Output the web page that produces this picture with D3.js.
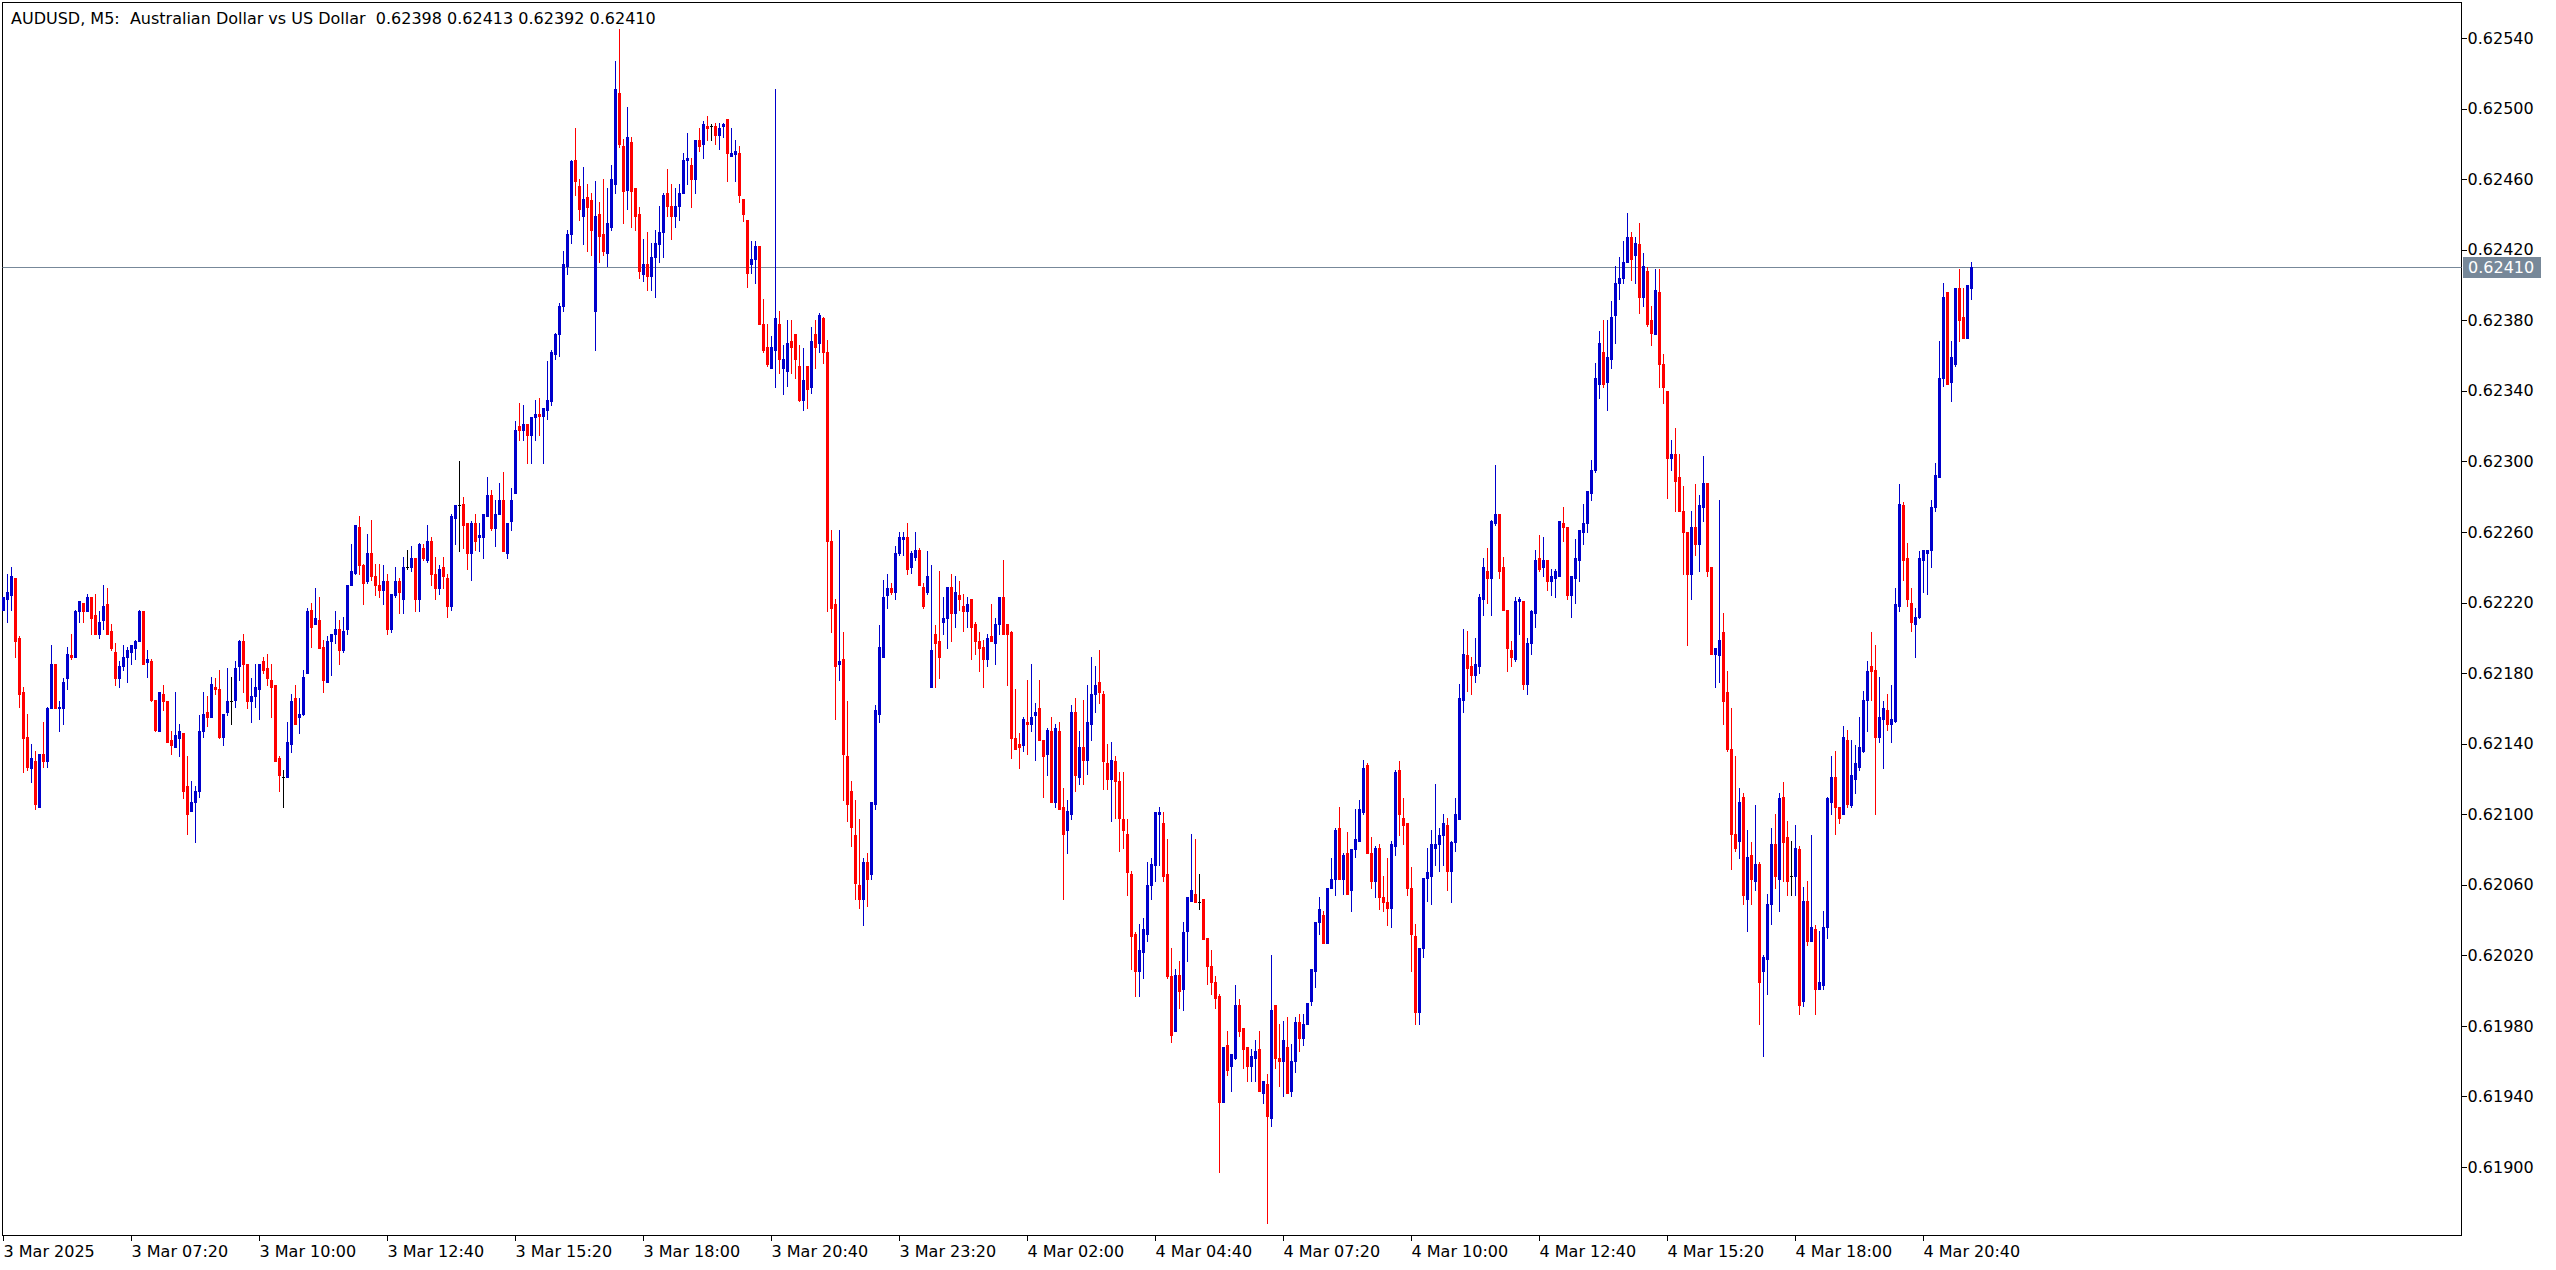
<!DOCTYPE html>
<html><head><meta charset="utf-8">
<script src="https://cdn.jsdelivr.net/npm/d3@7"></script>
<style>
html,body{margin:0;padding:0;background:#fff;}
svg{display:block;font-family:"DejaVu Sans",Tahoma,sans-serif;}
</style></head><body>
<svg id="chart" width="2556" height="1270"></svg>
<script>
const title = "AUDUSD, M5:  Australian Dollar vs US Dollar  0.62398 0.62413 0.62392 0.62410";
const startTime = "2025-03-03 04:40";
const barMinutes = 5;
const lastPrice = 0.62410;

const opens = [
0.62216,0.62222,0.62224,0.62234,0.62200,0.62169,0.62144,0.62126,0.62130,0.62104,
0.62134,0.62130,0.62160,0.62185,0.62160,0.62160,0.62177,0.62190,0.62189,0.62215,
0.62220,0.62215,0.62223,0.62213,0.62202,0.62210,0.62219,0.62204,0.62192,0.62177,
0.62184,0.62189,0.62192,0.62194,0.62198,0.62215,0.62186,0.62187,0.62165,0.62147,
0.62168,0.62164,0.62142,0.62138,0.62143,0.62146,0.62116,0.62102,0.62107,0.62113,
0.62147,0.62158,0.62155,0.62172,0.62171,0.62144,0.62158,0.62164,0.62165,0.62184,
0.62198,0.62185,0.62164,0.62167,0.62171,0.62187,0.62183,0.62176,0.62173,0.62132,
0.62121,0.62121,0.62140,0.62166,0.62155,0.62157,0.62180,0.62216,0.62208,0.62210,
0.62195,0.62175,0.62198,0.62202,0.62205,0.62193,0.62205,0.62230,0.62237,0.62263,
0.62241,0.62232,0.62248,0.62235,0.62230,0.62227,0.62232,0.62205,0.62224,0.62232,
0.62222,0.62240,0.62240,0.62245,0.62222,0.62251,0.62244,0.62255,0.62236,0.62228,
0.62240,0.62234,0.62218,0.62268,0.62275,0.62276,0.62265,0.62248,0.62265,0.62257,
0.62257,0.62269,0.62281,0.62262,0.62270,0.62278,0.62248,0.62266,0.62282,0.62320,
0.62318,0.62321,0.62315,0.62325,0.62327,0.62326,0.62329,0.62334,0.62361,0.62372,
0.62388,0.62411,0.62429,0.62471,0.62456,0.62439,0.62450,0.62448,0.62385,0.62440,
0.62429,0.62418,0.62433,0.62457,0.62509,0.62479,0.62454,0.62481,0.62455,0.62440,
0.62406,0.62412,0.62405,0.62416,0.62423,0.62430,0.62452,0.62445,0.62439,0.62445,
0.62452,0.62471,0.62468,0.62460,0.62482,0.62480,0.62490,0.62490,0.62490,0.62485,
0.62490,0.62494,0.62473,0.62474,0.62475,0.62449,0.62437,0.62412,0.62415,0.62422,
0.62378,0.62365,0.62353,0.62363,0.62378,0.62353,0.62351,0.62368,0.62372,0.62354,
0.62335,0.62354,0.62342,0.62372,0.62367,0.62381,0.62362,0.62255,0.62219,0.62185,
0.62188,0.62133,0.62113,0.62088,0.62060,0.62052,0.62073,0.62066,0.62106,0.62157,
0.62189,0.62224,0.62228,0.62226,0.62248,0.62256,0.62257,0.62240,0.62246,0.62250,
0.62229,0.62226,0.62172,0.62202,0.62198,0.62209,0.62211,0.62229,0.62214,0.62224,
0.62218,0.62215,0.62222,0.62208,0.62198,0.62195,0.62188,0.62201,0.62197,0.62208,
0.62223,0.62208,0.62203,0.62143,0.62140,0.62139,0.62152,0.62151,0.62156,0.62160,
0.62142,0.62134,0.62147,0.62107,0.62147,0.62104,0.62091,0.62100,0.62158,0.62121,
0.62138,0.62131,0.62151,0.62168,0.62175,0.62168,0.62129,0.62120,0.62130,0.62119,
0.62097,0.62089,0.62066,0.62032,0.62011,0.62022,0.62032,0.62060,0.62071,0.62100,
0.62095,0.62066,0.62008,0.61977,0.62009,0.62001,0.62034,0.62051,0.62055,0.62050,
0.62052,0.62030,0.62014,0.62005,0.61997,0.61937,0.61969,0.61957,0.61962,0.61992,
0.61979,0.61968,0.61957,0.61962,0.61967,0.61942,0.61947,0.61928,0.61992,0.61962,
0.61960,0.61968,0.61943,0.61960,0.61982,0.61973,0.61981,0.61994,0.62011,0.62039,
0.62043,0.62027,0.62058,0.62063,0.62092,0.62063,0.62078,0.62057,0.62080,0.62085,
0.62101,0.62128,0.62078,0.62062,0.62081,0.62053,0.62050,0.62047,0.62082,0.62125,
0.62098,0.62095,0.62058,0.62031,0.61988,0.62024,0.62064,0.62065,0.62081,0.62083,
0.62088,0.62094,0.62068,0.62084,0.62097,0.62165,0.62190,0.62184,0.62179,0.62184,
0.62222,0.62238,0.62234,0.62265,0.62270,0.62240,0.62216,0.62193,0.62188,0.62221,
0.62221,0.62174,0.62197,0.62214,0.62245,0.62240,0.62244,0.62232,0.62234,0.62235,
0.62265,0.62263,0.62224,0.62234,0.62244,0.62260,0.62265,0.62282,0.62295,0.62344,
0.62362,0.62345,0.62358,0.62383,0.62401,0.62404,0.62413,0.62427,0.62417,0.62423,
0.62393,0.62408,0.62380,0.62372,0.62396,0.62355,0.62340,0.62302,0.62304,0.62291,
0.62272,0.62260,0.62236,0.62263,0.62253,0.62274,0.62288,0.62240,0.62191,0.62190,
0.62203,0.62169,0.62137,0.62089,0.62085,0.62110,0.62052,0.62077,0.62062,0.62072,
0.62011,0.62018,0.62049,0.62083,0.62063,0.62110,0.62087,0.62065,0.62065,0.62080,
0.61994,0.62051,0.62028,0.62035,0.62001,0.62003,0.62036,0.62107,0.62121,0.62104,
0.62100,0.62142,0.62105,0.62120,0.62127,0.62136,0.62165,0.62184,0.62182,0.62144,
0.62154,0.62159,0.62151,0.62153,0.62218,0.62275,0.62245,0.62220,0.62208,0.62212,
0.62244,0.62248,0.62250,0.62274,0.62291,0.62347,0.62396,0.62345,0.62355,0.62398,
0.62382,0.62370,0.62398];

const highs = [
0.62223,0.62236,0.62240,0.62234,0.62201,0.62172,0.62157,0.62140,0.62136,0.62134,
0.62152,0.62161,0.62196,0.62185,0.62164,0.62177,0.62195,0.62202,0.62216,0.62221,
0.62220,0.62225,0.62223,0.62225,0.62215,0.62230,0.62228,0.62208,0.62197,0.62187,
0.62196,0.62195,0.62196,0.62199,0.62216,0.62215,0.62193,0.62188,0.62165,0.62169,
0.62173,0.62164,0.62147,0.62169,0.62151,0.62146,0.62133,0.62119,0.62116,0.62156,
0.62169,0.62167,0.62178,0.62177,0.62182,0.62157,0.62183,0.62178,0.62187,0.62199,
0.62202,0.62185,0.62177,0.62185,0.62185,0.62189,0.62191,0.62185,0.62173,0.62133,
0.62125,0.62152,0.62168,0.62173,0.62166,0.62182,0.62217,0.62220,0.62228,0.62223,
0.62199,0.62201,0.62202,0.62215,0.62210,0.62212,0.62230,0.62253,0.62264,0.62269,
0.62242,0.62259,0.62267,0.62242,0.62242,0.62241,0.62236,0.62225,0.62240,0.62234,
0.62246,0.62250,0.62252,0.62245,0.62254,0.62253,0.62264,0.62257,0.62246,0.62241,
0.62246,0.62236,0.62270,0.62275,0.62300,0.62280,0.62265,0.62266,0.62270,0.62265,
0.62270,0.62291,0.62284,0.62278,0.62288,0.62294,0.62265,0.62285,0.62323,0.62333,
0.62332,0.62321,0.62325,0.62335,0.62336,0.62330,0.62357,0.62363,0.62373,0.62390,
0.62419,0.62431,0.62471,0.62489,0.62460,0.62467,0.62457,0.62452,0.62459,0.62447,
0.62460,0.62455,0.62468,0.62527,0.62545,0.62483,0.62501,0.62484,0.62455,0.62444,
0.62426,0.62430,0.62424,0.62431,0.62445,0.62452,0.62466,0.62457,0.62455,0.62457,
0.62475,0.62486,0.62472,0.62482,0.62489,0.62493,0.62496,0.62491,0.62492,0.62492,
0.62492,0.62494,0.62489,0.62482,0.62479,0.62449,0.62437,0.62425,0.62425,0.62422,
0.62392,0.62378,0.62371,0.62511,0.62385,0.62366,0.62380,0.62380,0.62372,0.62366,
0.62364,0.62354,0.62376,0.62380,0.62384,0.62382,0.62369,0.62261,0.62222,0.62261,
0.62203,0.62164,0.62119,0.62108,0.62097,0.62075,0.62078,0.62107,0.62162,0.62207,
0.62233,0.62236,0.62231,0.62252,0.62260,0.62260,0.62265,0.62249,0.62260,0.62251,
0.62231,0.62249,0.62241,0.62207,0.62238,0.62223,0.62229,0.62236,0.62235,0.62232,
0.62225,0.62223,0.62222,0.62209,0.62203,0.62199,0.62202,0.62219,0.62211,0.62223,
0.62244,0.62208,0.62204,0.62171,0.62146,0.62155,0.62176,0.62185,0.62163,0.62176,
0.62142,0.62149,0.62155,0.62151,0.62152,0.62115,0.62108,0.62162,0.62166,0.62147,
0.62165,0.62173,0.62189,0.62184,0.62193,0.62170,0.62140,0.62141,0.62133,0.62124,
0.62124,0.62097,0.62068,0.62033,0.62038,0.62041,0.62073,0.62075,0.62101,0.62104,
0.62101,0.62086,0.62024,0.62012,0.62017,0.62039,0.62053,0.62089,0.62086,0.62066,
0.62052,0.62030,0.62023,0.62008,0.61998,0.61968,0.61977,0.61964,0.62003,0.61995,
0.61979,0.61968,0.61967,0.61972,0.61977,0.61949,0.61953,0.62020,0.61992,0.61981,
0.61983,0.61985,0.61970,0.61985,0.61987,0.61987,0.61993,0.62012,0.62039,0.62053,
0.62045,0.62058,0.62075,0.62092,0.62104,0.62078,0.62090,0.62080,0.62103,0.62108,
0.62131,0.62129,0.62087,0.62082,0.62083,0.62065,0.62075,0.62085,0.62125,0.62130,
0.62109,0.62095,0.62070,0.62038,0.62024,0.62064,0.62081,0.62091,0.62117,0.62092,
0.62100,0.62098,0.62085,0.62109,0.62174,0.62205,0.62204,0.62189,0.62200,0.62225,
0.62245,0.62251,0.62267,0.62298,0.62270,0.62246,0.62216,0.62198,0.62223,0.62223,
0.62221,0.62200,0.62216,0.62250,0.62258,0.62257,0.62244,0.62239,0.62239,0.62266,
0.62274,0.62263,0.62235,0.62256,0.62261,0.62276,0.62283,0.62301,0.62356,0.62374,
0.62380,0.62380,0.62391,0.62411,0.62416,0.62425,0.62441,0.62430,0.62427,0.62435,
0.62418,0.62410,0.62388,0.62409,0.62409,0.62361,0.62340,0.62312,0.62319,0.62304,
0.62286,0.62260,0.62272,0.62287,0.62281,0.62303,0.62288,0.62240,0.62194,0.62278,
0.62214,0.62181,0.62160,0.62133,0.62115,0.62112,0.62091,0.62084,0.62105,0.62073,
0.62020,0.62055,0.62092,0.62100,0.62112,0.62118,0.62096,0.62085,0.62094,0.62082,
0.62059,0.62062,0.62088,0.62037,0.62034,0.62045,0.62110,0.62133,0.62136,0.62104,
0.62150,0.62148,0.62142,0.62139,0.62155,0.62170,0.62187,0.62203,0.62196,0.62178,
0.62164,0.62168,0.62173,0.62228,0.62287,0.62277,0.62254,0.62228,0.62217,0.62249,
0.62250,0.62250,0.62278,0.62299,0.62368,0.62401,0.62396,0.62368,0.62398,0.62409,
0.62398,0.62400,0.62413];

const lows = [
0.62216,0.62209,0.62216,0.62189,0.62161,0.62124,0.62125,0.62118,0.62103,0.62104,
0.62127,0.62127,0.62160,0.62160,0.62147,0.62151,0.62171,0.62188,0.62189,0.62209,
0.62209,0.62215,0.62202,0.62202,0.62200,0.62205,0.62202,0.62193,0.62173,0.62172,
0.62182,0.62175,0.62185,0.62188,0.62198,0.62185,0.62178,0.62164,0.62147,0.62147,
0.62159,0.62141,0.62134,0.62138,0.62133,0.62109,0.62089,0.62102,0.62084,0.62110,
0.62144,0.62150,0.62155,0.62168,0.62143,0.62139,0.62156,0.62151,0.62161,0.62176,
0.62169,0.62160,0.62152,0.62161,0.62154,0.62180,0.62173,0.62155,0.62130,0.62113,
0.62104,0.62121,0.62135,0.62151,0.62146,0.62156,0.62180,0.62195,0.62208,0.62194,
0.62169,0.62175,0.62179,0.62197,0.62185,0.62192,0.62202,0.62230,0.62236,0.62236,
0.62219,0.62231,0.62233,0.62224,0.62223,0.62219,0.62202,0.62203,0.62223,0.62214,
0.62214,0.62239,0.62238,0.62215,0.62215,0.62244,0.62243,0.62230,0.62222,0.62225,
0.62228,0.62212,0.62216,0.62253,0.62249,0.62251,0.62239,0.62233,0.62250,0.62249,
0.62245,0.62269,0.62261,0.62252,0.62270,0.62249,0.62245,0.62261,0.62282,0.62312,
0.62312,0.62299,0.62299,0.62312,0.62315,0.62299,0.62324,0.62332,0.62358,0.62360,
0.62385,0.62406,0.62424,0.62451,0.62437,0.62423,0.62419,0.62417,0.62363,0.62413,
0.62417,0.62411,0.62431,0.62452,0.62478,0.62435,0.62443,0.62433,0.62431,0.62404,
0.62402,0.62397,0.62397,0.62393,0.62413,0.62416,0.62439,0.62426,0.62433,0.62437,
0.62452,0.62457,0.62444,0.62452,0.62476,0.62472,0.62482,0.62482,0.62480,0.62477,
0.62484,0.62459,0.62473,0.62459,0.62447,0.62436,0.62399,0.62407,0.62401,0.62378,
0.62362,0.62354,0.62353,0.62342,0.62350,0.62338,0.62343,0.62350,0.62347,0.62334,
0.62329,0.62330,0.62339,0.62353,0.62362,0.62356,0.62215,0.62203,0.62154,0.62176,
0.62108,0.62096,0.62082,0.62052,0.62047,0.62037,0.62048,0.62063,0.62103,0.62152,
0.62189,0.62217,0.62225,0.62222,0.62247,0.62247,0.62236,0.62237,0.62244,0.62230,
0.62217,0.62225,0.62172,0.62172,0.62177,0.62202,0.62194,0.62198,0.62206,0.62216,
0.62204,0.62206,0.62188,0.62191,0.62181,0.62172,0.62184,0.62198,0.62185,0.62202,
0.62202,0.62173,0.62132,0.62137,0.62126,0.62136,0.62134,0.62147,0.62131,0.62142,
0.62110,0.62122,0.62107,0.62104,0.62103,0.62052,0.62078,0.62097,0.62113,0.62117,
0.62117,0.62123,0.62142,0.62158,0.62163,0.62114,0.62114,0.62096,0.62098,0.62079,
0.62081,0.62054,0.62012,0.61997,0.61997,0.62007,0.62028,0.62052,0.62062,0.62071,
0.62062,0.62007,0.61971,0.61977,0.61990,0.61989,0.62017,0.62051,0.62050,0.62046,
0.62029,0.62004,0.61998,0.61990,0.61897,0.61937,0.61952,0.61943,0.61961,0.61974,
0.61956,0.61949,0.61949,0.61949,0.61943,0.61936,0.61868,0.61923,0.61956,0.61946,
0.61940,0.61942,0.61940,0.61954,0.61966,0.61969,0.61981,0.61992,0.62002,0.62032,
0.62027,0.62027,0.62058,0.62054,0.62063,0.62055,0.62055,0.62045,0.62076,0.62085,
0.62100,0.62078,0.62058,0.62053,0.62046,0.62045,0.62037,0.62036,0.62077,0.62088,
0.62083,0.62054,0.62011,0.61981,0.61981,0.62019,0.62051,0.62049,0.62071,0.62068,
0.62071,0.62057,0.62050,0.62079,0.62097,0.62158,0.62170,0.62168,0.62175,0.62180,
0.62213,0.62220,0.62213,0.62264,0.62234,0.62216,0.62181,0.62184,0.62187,0.62202,
0.62171,0.62168,0.62191,0.62206,0.62238,0.62235,0.62227,0.62224,0.62223,0.62235,
0.62255,0.62222,0.62212,0.62220,0.62232,0.62253,0.62260,0.62278,0.62294,0.62336,
0.62342,0.62329,0.62353,0.62367,0.62392,0.62401,0.62413,0.62403,0.62401,0.62384,
0.62388,0.62377,0.62366,0.62372,0.62342,0.62333,0.62279,0.62295,0.62272,0.62272,
0.62236,0.62196,0.62222,0.62247,0.62238,0.62266,0.62235,0.62191,0.62172,0.62175,
0.62151,0.62136,0.62069,0.62079,0.62075,0.62049,0.62034,0.62049,0.62057,0.61981,
0.61963,0.61998,0.62038,0.62058,0.62045,0.62062,0.62054,0.62054,0.62054,0.61987,
0.61991,0.62026,0.62028,0.61987,0.62001,0.62001,0.62030,0.62100,0.62089,0.62095,
0.62100,0.62104,0.62104,0.62112,0.62125,0.62135,0.62147,0.62165,0.62100,0.62141,
0.62126,0.62148,0.62141,0.62152,0.62215,0.62233,0.62218,0.62204,0.62189,0.62211,
0.62226,0.62225,0.62240,0.62272,0.62291,0.62343,0.62344,0.62334,0.62354,0.62368,
0.62370,0.62370,0.62392];

const closes = [
0.62223,0.62226,0.62235,0.62198,0.62168,0.62143,0.62127,0.62132,0.62106,0.62134,
0.62130,0.62160,0.62185,0.62160,0.62161,0.62175,0.62191,0.62189,0.62215,0.62221,
0.62215,0.62223,0.62211,0.62202,0.62209,0.62218,0.62202,0.62194,0.62177,0.62184,
0.62189,0.62193,0.62196,0.62198,0.62215,0.62185,0.62188,0.62165,0.62148,0.62169,
0.62164,0.62141,0.62139,0.62145,0.62147,0.62113,0.62100,0.62107,0.62113,0.62147,
0.62157,0.62155,0.62174,0.62171,0.62144,0.62157,0.62164,0.62164,0.62183,0.62198,
0.62185,0.62164,0.62167,0.62172,0.62185,0.62182,0.62177,0.62172,0.62130,0.62122,
0.62121,0.62141,0.62164,0.62151,0.62157,0.62178,0.62215,0.62206,0.62211,0.62194,
0.62176,0.62198,0.62202,0.62205,0.62193,0.62204,0.62230,0.62238,0.62264,0.62241,
0.62231,0.62248,0.62235,0.62230,0.62227,0.62232,0.62205,0.62225,0.62232,0.62226,
0.62240,0.62240,0.62245,0.62222,0.62253,0.62245,0.62255,0.62236,0.62228,0.62239,
0.62235,0.62218,0.62269,0.62275,0.62275,0.62264,0.62248,0.62265,0.62255,0.62258,
0.62270,0.62281,0.62262,0.62270,0.62278,0.62249,0.62265,0.62278,0.62318,0.62318,
0.62321,0.62315,0.62325,0.62327,0.62326,0.62330,0.62335,0.62362,0.62372,0.62388,
0.62412,0.62429,0.62470,0.62459,0.62443,0.62449,0.62444,0.62431,0.62439,0.62428,
0.62419,0.62435,0.62460,0.62511,0.62480,0.62453,0.62484,0.62453,0.62439,0.62408,
0.62412,0.62405,0.62416,0.62424,0.62430,0.62451,0.62445,0.62439,0.62445,0.62452,
0.62471,0.62472,0.62460,0.62482,0.62479,0.62491,0.62489,0.62490,0.62485,0.62489,
0.62491,0.62475,0.62475,0.62476,0.62451,0.62440,0.62407,0.62415,0.62422,0.62378,
0.62363,0.62355,0.62365,0.62381,0.62358,0.62358,0.62367,0.62365,0.62358,0.62335,
0.62346,0.62341,0.62368,0.62365,0.62383,0.62362,0.62255,0.62217,0.62184,0.62187,
0.62134,0.62106,0.62093,0.62061,0.62052,0.62073,0.62063,0.62107,0.62159,0.62195,
0.62223,0.62228,0.62226,0.62248,0.62257,0.62257,0.62239,0.62248,0.62250,0.62230,
0.62218,0.62235,0.62193,0.62197,0.62189,0.62211,0.62229,0.62214,0.62226,0.62222,
0.62215,0.62219,0.62206,0.62198,0.62194,0.62188,0.62200,0.62198,0.62208,0.62223,
0.62202,0.62202,0.62143,0.62137,0.62138,0.62154,0.62151,0.62155,0.62158,0.62142,
0.62133,0.62148,0.62107,0.62149,0.62103,0.62089,0.62102,0.62158,0.62122,0.62138,
0.62131,0.62152,0.62168,0.62173,0.62169,0.62130,0.62120,0.62131,0.62119,0.62098,
0.62091,0.62067,0.62031,0.62011,0.62023,0.62035,0.62060,0.62072,0.62101,0.62101,
0.62065,0.62008,0.61975,0.62009,0.62000,0.62033,0.62053,0.62057,0.62050,0.62050,
0.62029,0.62014,0.62005,0.61996,0.61937,0.61968,0.61955,0.61964,0.61992,0.61977,
0.61967,0.61957,0.61963,0.61966,0.61943,0.61949,0.61929,0.61989,0.61962,0.61960,
0.61972,0.61942,0.61960,0.61982,0.61973,0.61981,0.61993,0.62012,0.62039,0.62046,
0.62027,0.62058,0.62063,0.62091,0.62063,0.62077,0.62055,0.62080,0.62086,0.62103,
0.62126,0.62078,0.62062,0.62081,0.62053,0.62050,0.62047,0.62083,0.62124,0.62100,
0.62094,0.62058,0.62032,0.61988,0.62024,0.62064,0.62067,0.62083,0.62083,0.62088,
0.62095,0.62068,0.62084,0.62100,0.62166,0.62191,0.62183,0.62179,0.62185,0.62223,
0.62240,0.62234,0.62266,0.62270,0.62238,0.62216,0.62194,0.62189,0.62221,0.62222,
0.62174,0.62197,0.62215,0.62244,0.62239,0.62244,0.62232,0.62235,0.62238,0.62266,
0.62263,0.62224,0.62235,0.62245,0.62261,0.62265,0.62283,0.62295,0.62347,0.62367,
0.62344,0.62359,0.62382,0.62401,0.62404,0.62413,0.62427,0.62415,0.62424,0.62393,
0.62411,0.62378,0.62373,0.62397,0.62355,0.62342,0.62302,0.62304,0.62289,0.62272,
0.62260,0.62236,0.62263,0.62253,0.62275,0.62288,0.62238,0.62191,0.62194,0.62199,
0.62164,0.62137,0.62089,0.62081,0.62107,0.62054,0.62076,0.62063,0.62072,0.62005,
0.62019,0.62049,0.62083,0.62065,0.62109,0.62084,0.62062,0.62065,0.62081,0.61992,
0.62051,0.62028,0.62036,0.62001,0.62005,0.62036,0.62109,0.62121,0.62104,0.62098,
0.62144,0.62106,0.62122,0.62129,0.62138,0.62165,0.62181,0.62181,0.62144,0.62155,
0.62160,0.62151,0.62154,0.62219,0.62276,0.62244,0.62222,0.62209,0.62212,0.62245,
0.62250,0.62250,0.62274,0.62292,0.62347,0.62393,0.62344,0.62359,0.62398,0.62380,
0.62370,0.62400,0.62410];

const priceTicks = [0.61900,0.61940,0.61980,0.62020,0.62060,0.62100,0.62140,0.62180,
  0.62220,0.62260,0.62300,0.62340,0.62380,0.62420,0.62460,0.62500,0.62540];
const timeTicks = ["2025-03-03 04:40","2025-03-03 07:20","2025-03-03 10:00","2025-03-03 12:40",
  "2025-03-03 15:20","2025-03-03 18:00","2025-03-03 20:40","2025-03-03 23:20",
  "2025-03-04 02:00","2025-03-04 04:40","2025-03-04 07:20","2025-03-04 10:00",
  "2025-03-04 12:40","2025-03-04 15:20","2025-03-04 18:00","2025-03-04 20:40"];
const timeTickLabels = ["3 Mar 2025","3 Mar 07:20","3 Mar 10:00","3 Mar 12:40","3 Mar 15:20",
  "3 Mar 18:00","3 Mar 20:40","3 Mar 23:20","4 Mar 02:00","4 Mar 04:40","4 Mar 07:20",
  "4 Mar 10:00","4 Mar 12:40","4 Mar 15:20","4 Mar 18:00","4 Mar 20:40"];

// ---- layout ----
const plot = {left: 2.5, top: 2.5, right: 2461.5, bottom: 1235.5};
const barStep = 4;
const colBull = "#0000CC", colBear = "#FF0000", colDoji = "#000000";
const priceLineCol = "#778899";

const svg = d3.select("#chart");
const parse = d3.utcParse("%Y-%m-%d %H:%M");
const t0 = parse(startTime);
const times = opens.map((_, i) => new Date(t0.getTime() + i * barMinutes * 60000));
const x = d3.scaleUtc()
  .domain([times[0], times[times.length - 1]])
  .range([3, 3 + barStep * (times.length - 1)]);
const y = d3.scaleLinear().domain([0.61900, 0.62540]).range([1167, 38]);

// frame
svg.append("rect").attr("x", plot.left).attr("y", plot.top)
  .attr("width", plot.right - plot.left).attr("height", plot.bottom - plot.top)
  .attr("fill", "none").attr("stroke", "#000").attr("stroke-width", 1);

// price line
const yl = Math.round(y(lastPrice)) + 0.5;
svg.append("line").attr("x1", plot.left).attr("x2", plot.right)
  .attr("y1", yl).attr("y2", yl).attr("stroke", priceLineCol).attr("stroke-width", 1);

// candles
const bars = opens.map((o, i) => ({o, h: highs[i], l: lows[i], c: closes[i], t: times[i]}));
const gC = svg.append("g").attr("shape-rendering", "crispEdges");
const color = d => d.c > d.o ? colBull : (d.c < d.o ? colBear : colDoji);
const cand = gC.selectAll("g.c").data(bars).join("g").attr("class", "c");
cand.append("rect")
  .attr("x", d => Math.round(x(d.t)))
  .attr("width", 1)
  .attr("y", d => Math.round(y(Math.max(d.h, d.o, d.c))))
  .attr("height", d => Math.max(1, Math.round(y(Math.min(d.l, d.o, d.c))) - Math.round(y(Math.max(d.h, d.o, d.c))) + 1))
  .attr("fill", color);
cand.append("rect")
  .attr("x", d => Math.round(x(d.t)) - 1)
  .attr("width", 3)
  .attr("y", d => Math.round(y(Math.max(d.o, d.c))))
  .attr("height", d => Math.max(1, Math.round(y(Math.min(d.o, d.c))) - Math.round(y(Math.max(d.o, d.c))) + 1))
  .attr("fill", color);

// y axis (right)
const yAxis = d3.axisRight(y).tickValues(priceTicks).tickFormat(d3.format(".5f"))
  .tickSize(5).tickPadding(1);
const gy = svg.append("g").attr("transform", `translate(${plot.right},0)`).call(yAxis);
gy.select(".domain").remove();
gy.attr("font-size", null).attr("font-family", null);
gy.selectAll("line").attr("stroke", "#000").attr("shape-rendering", "crispEdges");
gy.selectAll("text").attr("fill", "#000").style("font-size", "16px");

// price label
const lbl = svg.append("g");
lbl.append("rect").attr("x", 2463).attr("y", Math.round(y(lastPrice)) - 10)
  .attr("width", 78).attr("height", 21).attr("fill", priceLineCol);
lbl.append("text").attr("x", 2468).attr("y", y(lastPrice)).attr("dy", "0.36em")
  .attr("fill", "#fff").style("font-size", "16px").text(d3.format(".5f")(lastPrice));

// x axis (bottom)
const tickDates = timeTicks.map(parse);
const xAxis = d3.axisBottom(x).tickValues(tickDates)
  .tickFormat((d, i) => timeTickLabels[i]).tickSize(5).tickPadding(5);
const gx = svg.append("g").attr("transform", `translate(0,${plot.bottom})`).call(xAxis);
gx.select(".domain").remove();
gx.attr("font-size", null).attr("font-family", null);
gx.selectAll(".tick").attr("transform", d => `translate(${Math.round(x(d)) + 0.5},0)`);
gx.selectAll("line").attr("stroke", "#000").attr("shape-rendering", "crispEdges");
gx.selectAll("text").attr("fill", "#000").attr("text-anchor", "start").attr("x", 0)
  .style("font-size", "16px");

// title
svg.append("text").attr("x", 11).attr("y", 24).attr("fill", "#000")
  .attr("xml:space", "preserve").style("white-space", "pre")
  .style("font-size", "16px").text(title);
</script>
</body></html>
